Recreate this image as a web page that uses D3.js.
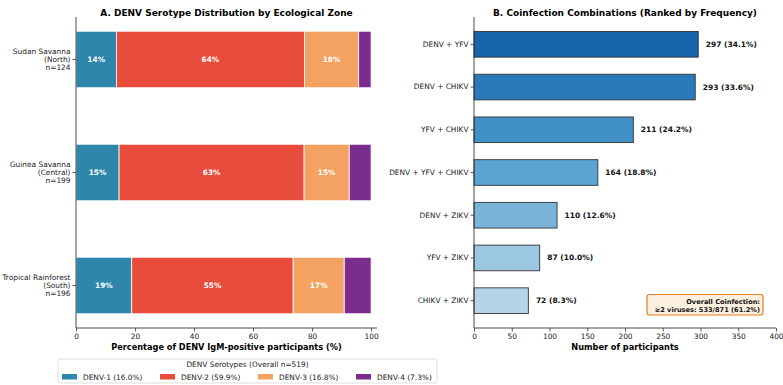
<!DOCTYPE html>
<html>
<head>
<meta charset="utf-8">
<script src="https://cdn.jsdelivr.net/npm/d3@7"></script>
<style>
body { margin: 0; background: #fff; }
text { font-family: "DejaVu Sans", sans-serif; }
</style>
</head>
<body>
<div id="chart"></div>
<script>
// data
var zones = ["Sudan Savanna\n(North)\nn=124", "Guinea Savanna\n(Central)\nn=199", "Tropical Rainforest\n(South)\nn=196"];
var serotypes = ["DENV-1", "DENV-2", "DENV-3", "DENV-4"];
var denv1 = [13.7, 14.6, 18.9];
var denv2 = [63.7, 62.7, 54.7];
var denv3 = [18.4, 15.3, 17.3];
var denv4 = [4.2, 7.4, 9.1];
var overallPct = [16.0, 59.9, 16.8, 7.3];
var overallN = 519;
var pctTicks = [0, 20, 40, 60, 80, 100];

var combos = ["DENV + YFV", "DENV + CHIKV", "YFV + CHIKV", "DENV + YFV + CHIKV", "DENV + ZIKV", "YFV + ZIKV", "CHIKV + ZIKV"];
var counts = [297, 293, 211, 164, 110, 87, 72];
var totalN = 871;
var coinfected = 533;
var countTicks = [0, 50, 100, 150, 200, 250, 300, 350, 400];

var serColors = ["#2E86AB", "#E74C3C", "#F4A261", "#7B2D8E"];

var svg = d3.select("#chart").append("svg")
  .attr("width", 783)
  .attr("height", 385);

// ---------- Panel A ----------
var rows = zones.map(function (z, i) {
  return { zone: z, "DENV-1": denv1[i], "DENV-2": denv2[i], "DENV-3": denv3[i], "DENV-4": denv4[i] };
});
var stacked = d3.stack().keys(serotypes)(rows);

var xA = d3.scaleLinear().domain([0, 102]).range([76, 377]);
var yA = d3.scaleBand().domain(zones).range([17, 328]).paddingInner(0.5).paddingOuter(0.126);

svg.append("text")
  .attr("x", 226.5).attr("y", 16)
  .attr("text-anchor", "middle")
  .style("font-size", "9px").style("font-weight", "bold")
  .text("A. DENV Serotype Distribution by Ecological Zone");

var layers = svg.append("g").selectAll("g")
  .data(stacked).enter().append("g")
  .attr("fill", function (d, i) { return serColors[i]; });

layers.selectAll("rect")
  .data(function (d) { return d; })
  .enter().append("rect")
  .attr("x", function (d) { return xA(d[0]); })
  .attr("y", function (d) { return yA(d.data.zone); })
  .attr("width", function (d) { return xA(d[1]) - xA(d[0]); })
  .attr("height", yA.bandwidth())
  .attr("stroke", "#fff")
  .attr("stroke-width", 0.8);

layers.selectAll("text")
  .data(function (d) { return d.filter(function (s) { return s[1] - s[0] > 10; }); })
  .enter().append("text")
  .attr("x", function (d) { return xA((d[0] + d[1]) / 2); })
  .attr("y", function (d) { return yA(d.data.zone) + yA.bandwidth() / 2; })
  .attr("text-anchor", "middle")
  .attr("dominant-baseline", "central")
  .attr("fill", "#fff")
  .style("font-size", "7.4px").style("font-weight", "bold")
  .text(function (d) { return Math.round(d[1] - d[0]) + "%"; });

// axes A
var axA = svg.append("g")
  .attr("transform", "translate(0,328)")
  .call(d3.axisBottom(xA).tickValues(pctTicks).tickSize(3.5).tickPadding(2));
var ayA = svg.append("g")
  .attr("transform", "translate(76,0)")
  .call(d3.axisLeft(yA).tickSize(3.5).tickFormat(""));

ayA.selectAll(".tick").each(function (d) {
  var lines = d.split("\n");
  var t = d3.select(this).append("text")
    .attr("x", -5.5)
    .attr("fill", "#222")
    .attr("text-anchor", "end")
    .style("font-size", "7.4px");
  lines.forEach(function (l, k) {
    t.append("tspan")
      .attr("x", -5.5)
      .attr("y", (k - (lines.length - 1) / 2) * 8)
      .attr("dy", "0.35em")
      .text(l);
  });
});

svg.append("text")
  .attr("x", 226.5).attr("y", 350)
  .attr("text-anchor", "middle")
  .style("font-size", "8.2px").style("font-weight", "bold")
  .text("Percentage of DENV IgM-positive participants (%)");

// legend
var leg = svg.append("g").attr("transform", "translate(58,359)");
leg.append("rect")
  .attr("width", 379).attr("height", 24)
  .attr("rx", 2)
  .attr("fill", "#fff").attr("stroke", "#d6d6d6").attr("stroke-width", 0.8);
leg.append("text")
  .attr("x", 189.5).attr("y", 8)
  .attr("text-anchor", "middle")
  .style("font-size", "7.4px").attr("fill", "#222")
  .text("DENV Serotypes (Overall n=" + overallN + ")");
var items = leg.selectAll(".item")
  .data(serotypes).enter().append("g")
  .attr("class", "item")
  .attr("transform", function (d, i) { return "translate(" + (4 + i * 98) + ",15)"; });
items.append("rect")
  .attr("width", 15).attr("height", 5.5)
  .attr("fill", function (d, i) { return serColors[i]; });
items.append("text")
  .attr("x", 21).attr("y", 5.5)
  .style("font-size", "7.4px").attr("fill", "#222")
  .text(function (d, i) { return d + " (" + overallPct[i].toFixed(1) + "%)"; });

// ---------- Panel B ----------
var xB = d3.scaleLinear().domain([0, 400]).range([474, 776]);
var yB = d3.scaleBand().domain(combos).range([17, 328]).paddingInner(0.4).paddingOuter(0.34);

// matplotlib-like Blues
var blues = d3.scaleLinear().domain(d3.range(9).map(function (i) { return i / 8; })).range(d3.schemeBlues[9]);
var shade = d3.scaleLinear().domain([0, combos.length - 1]).range([0.8, 0.3]);

svg.append("text")
  .attr("x", 625).attr("y", 16)
  .attr("text-anchor", "middle")
  .style("font-size", "9px").style("font-weight", "bold")
  .text("B. Coinfection Combinations (Ranked by Frequency)");

svg.append("g").selectAll("rect")
  .data(counts).enter().append("rect")
  .attr("x", xB(0))
  .attr("y", function (d, i) { return yB(combos[i]); })
  .attr("width", function (d) { return xB(d) - xB(0); })
  .attr("height", yB.bandwidth())
  .attr("fill", function (d, i) { return blues(shade(i)); })
  .attr("stroke", "#333")
  .attr("stroke-width", 0.9);

svg.append("g").selectAll("text")
  .data(counts).enter().append("text")
  .attr("x", function (d) { return xB(d + 10); })
  .attr("y", function (d, i) { return yB(combos[i]) + yB.bandwidth() / 2; })
  .attr("dominant-baseline", "central")
  .attr("fill", "#111")
  .style("font-size", "7.5px").style("font-weight", "bold")
  .text(function (d) { return d + " (" + (d / totalN * 100).toFixed(1) + "%)"; });

var axB = svg.append("g")
  .attr("transform", "translate(0,328)")
  .call(d3.axisBottom(xB).tickValues(countTicks).tickSize(3.5).tickPadding(2));
var ayB = svg.append("g")
  .attr("transform", "translate(474,0)")
  .call(d3.axisLeft(yB).tickSize(3.5).tickPadding(2));

svg.append("text")
  .attr("x", 625).attr("y", 350)
  .attr("text-anchor", "middle")
  .style("font-size", "8.2px").style("font-weight", "bold")
  .text("Number of participants");

// annotation box
var ann = svg.append("g");
ann.append("rect")
  .attr("x", 647).attr("y", 294.5)
  .attr("width", 116).attr("height", 20.5)
  .attr("rx", 2.5)
  .attr("fill", "#fdf0e0").attr("stroke", "#e67e22").attr("stroke-width", 1.2);
ann.append("text")
  .attr("x", 760).attr("y", 303.5)
  .attr("text-anchor", "end")
  .style("font-size", "6.6px").style("font-weight", "bold")
  .attr("fill", "#111")
  .text("Overall Coinfection:");
ann.append("text")
  .attr("x", 760).attr("y", 311.5)
  .attr("text-anchor", "end")
  .style("font-size", "6.6px").style("font-weight", "bold")
  .attr("fill", "#111")
  .text("≥2 viruses: " + coinfected + "/" + totalN + " (" + (coinfected / totalN * 100).toFixed(1) + "%)");

// axis styling: only left and bottom spines, extend spines to full plot height
[axA, ayA, axB, ayB].forEach(function (a) {
  a.select(".domain").remove();
  a.selectAll(".tick line").attr("stroke", "#333").attr("stroke-width", 0.8);
  a.selectAll(".tick text").style("font-size", "7.4px").attr("fill", "#222").style("font-family", "DejaVu Sans");
});
[[76, 377], [474, 776]].forEach(function (r) {
  svg.append("line").attr("x1", r[0]).attr("x2", r[1]).attr("y1", 328).attr("y2", 328)
    .attr("stroke", "#333").attr("stroke-width", 0.9);
  svg.append("line").attr("x1", r[0]).attr("x2", r[0]).attr("y1", 17).attr("y2", 328)
    .attr("stroke", "#333").attr("stroke-width", 0.9);
});
</script>
</body>
</html>
